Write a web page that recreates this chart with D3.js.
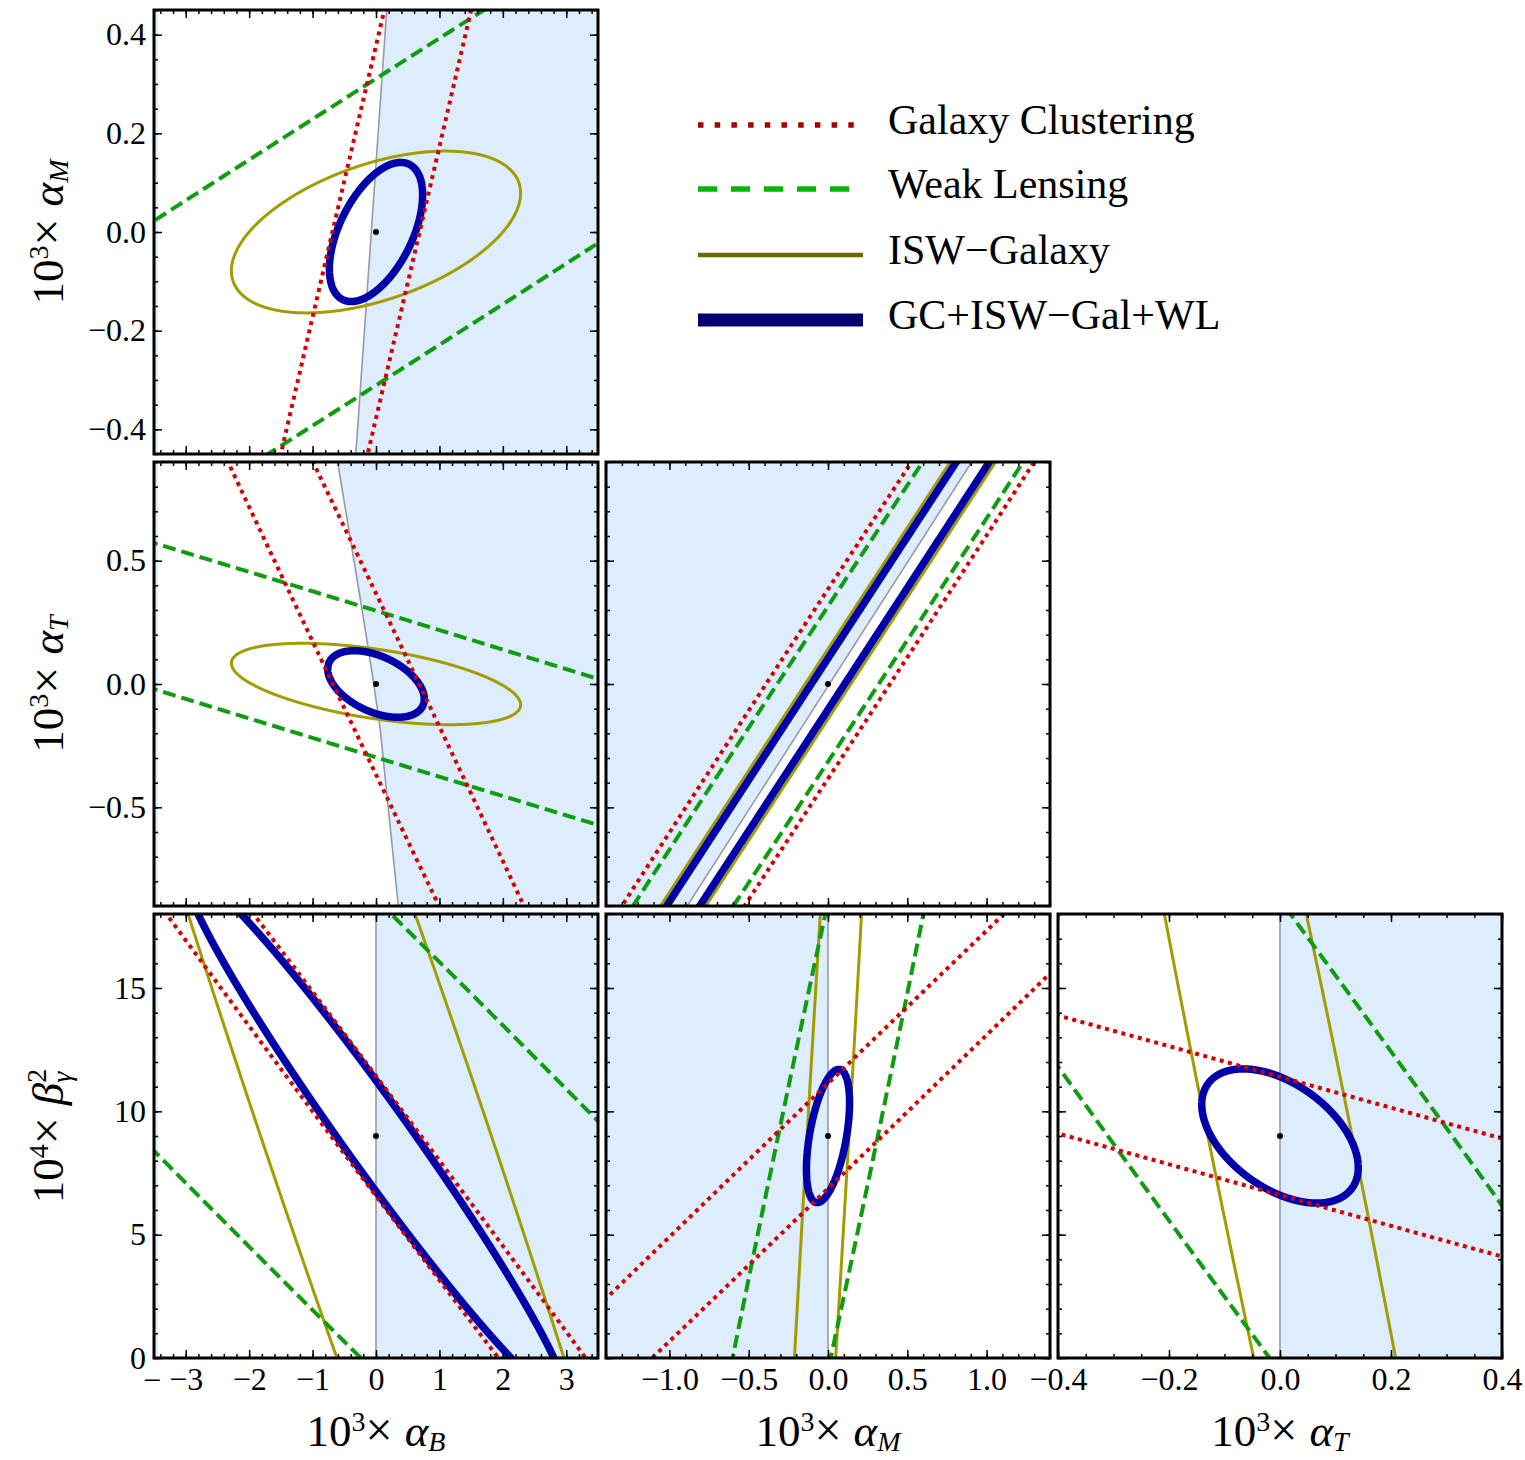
<!DOCTYPE html>
<html>
<head>
<meta charset="utf-8">
<script src="https://cdn.jsdelivr.net/npm/d3@7"></script>
<style>
  body { margin: 0; background: #fff; }
  svg text { font-family: "Liberation Serif", "Times New Roman", serif; fill: #000; }
</style>
</head>
<body>
<svg id="chart" width="1525" height="1460"></svg>
<script>
// ---------------- data ----------------
// column parameters (x axes) and row parameters (y axes)
const xDomains = [[-3.5, 3.5], [-1.4, 1.4], [-0.4, 0.4]];          // alpha_B, alpha_M, alpha_T
const yDomains = [[-0.45, 0.45], [-0.9, 0.9], [0, 18]];             // alpha_M, alpha_T, beta_gamma^2
const xMajorTicks = [[-3, -2, -1, 0, 1, 2, 3], [-1, -0.5, 0, 0.5, 1], [-0.4, -0.2, 0, 0.2, 0.4]];
const xMinorSteps = [0.2, 0.1, 0.05];
const yMajorTicks = [[-0.4, -0.2, 0, 0.2, 0.4], [-0.5, 0, 0.5], [0, 5, 10, 15]];
const yMinorSteps = [0.05, 0.1, 1];
const xTickFormats = ["d", ".1f", ".1f"];
const yTickFormats = [".1f", ".1f", "d"];
const xTitleSubs = ["B", "M", "T"];
const yTitleSubs = ["M", "T", null];

// triangle layout: panel -> (column, row)
const panelCols = [0, 0, 1, 0, 1, 2];
const panelRows = [0, 1, 1, 2, 2, 2];

// fiducial model in every panel
const fiducialX = [0, 0, 0, 0, 0, 0];
const fiducialY = [0, 0, 0, 9, 9, 9];

// forecast contours: [sigma_x, sigma_y, correlation] for each panel
const probeNames = ["Galaxy Clustering", "Weak Lensing", "ISW\u2212Galaxy", "GC+ISW\u2212Gal+WL"];
const gcContours = [
  [9.091, 5, 0.99714], [9.265, 5, -0.99730], [6.1025, 6, 0.99795],
  [10.494, 36, -0.99771], [8.047, 50, 0.99909], [8, 49.96, -0.99885]
];
const wlContours = [
  [40, 3.2947, 0.99554], [40, 3.162, -0.99557], [6.0985, 6, 0.99862],
  [23.30, 60, -0.9871], [1.655, 50, 0.9818], [1.945, 60, -0.9872]
];
const iswContours = [
  [2.28, 0.164, 0.48], [2.28, 0.165, -0.51], [6.0918, 6, 0.99972],
  [6.769, 50, -0.9632], [0.4719, 50, 0.960], [0.4659, 50, -0.9603]
];
const combinedContours = [
  [0.735, 0.141, 0.53], [0.761, 0.135, -0.45], [6.0911, 6, 0.99985],
  [2.991, 10.668, -0.9776], [0.136, 2.70, 0.50], [0.141, 2.72, -0.47]
];

// stability boundary in each panel
const boundaries = [
  [[0.169, 0.45], [-0.074, 0], [-0.318, -0.45]],
  [[-0.605, 0.9], [-0.226, 0.312], [-0.043, 0.014], [0.063, -0.176], [0.352, -0.9]],
  [[-0.888, -0.9], [0.906, 0.9]],
  [[0, 0], [0, 18]],
  [[0, 0], [0, 18]],
  [[0, 0], [0, 18]]
];
// shaded (stable) regions
const stableRegions = [
  [[[-3.5, -0.45], [-3.44, -0.45], [-3.44, 0.45], [-3.5, 0.45]],
   boundaries[0].concat([[3.5, -0.45], [3.5, 0.45]])],
  [[[-3.5, -0.9], [-3.44, -0.9], [-3.44, 0.9], [-3.5, 0.9]],
   boundaries[1].concat([[3.5, -0.9], [3.5, 0.9]])],
  [boundaries[2].concat([[-1.4, 0.9], [-1.4, -0.9]])],
  [[[-3.5, 0], [-3.44, 0], [-3.44, 18], [-3.5, 18]],
   [[0, 0], [3.5, 0], [3.5, 18], [0, 18]]],
  [[[-1.4, 0], [0, 0], [0, 18], [-1.4, 18]]],
  [[[0, 0], [0.4, 0], [0.4, 18], [0, 18]]]
];

// ---------------- layout & styles ----------------
const S = 444;
const colX = [154, 606, 1058];
const rowY = [10, 462, 914];

const probeStyles = [
  { stroke: "#d20000", width: 4, dash: "4,4.5", legendStroke: "#a50000", legendWidth: 5.5, legendDash: "5.5,11.2" },
  { stroke: "#109c10", width: 4, dash: "13,6", legendStroke: "#00b800", legendWidth: 5.5, legendDash: "19,14" },
  { stroke: "#a39c00", width: 3, dash: null, legendStroke: "#6a6a00", legendWidth: 4.5, legendDash: null },
  { stroke: "#0000aa", width: 7.5, dash: null, legendStroke: "#00006e", legendWidth: 13, legendDash: null }
];
const contourSets = [gcContours, wlContours, iswContours, combinedContours];
const drawOrder = [2, 3, 1, 0];

const svg = d3.select("#chart");
const defs = svg.append("defs");

function ellipsePoints(cx, cy, c, n) {
  const [sx, sy, rho] = c;
  const q = Math.sqrt(1 - rho * rho);
  return d3.range(n).map(i => {
    const t = 2 * Math.PI * i / n;
    return [cx + sx * Math.cos(t), cy + sy * (rho * Math.cos(t) + q * Math.sin(t))];
  });
}

function minorTicks(dom, step) {
  const out = [];
  const k0 = Math.ceil(dom[0] / step - 1e-9), k1 = Math.floor(dom[1] / step + 1e-9);
  for (let k = k0; k <= k1; k++) out.push(+(k * step).toFixed(6));
  return out;
}

panelCols.forEach((c, p) => {
  const r = panelRows[p];
  const x = d3.scaleLinear().domain(xDomains[c]).range([colX[c], colX[c] + S]);
  const y = d3.scaleLinear().domain(yDomains[r]).range([rowY[r] + S, rowY[r]]);
  const line = d3.line().x(d => x(d[0])).y(d => y(d[1]));

  defs.append("clipPath").attr("id", "clip" + p)
    .append("rect").attr("x", colX[c]).attr("y", rowY[r]).attr("width", S).attr("height", S);

  const g = svg.append("g").attr("clip-path", `url(#clip${p})`);

  // stable region
  stableRegions[p].forEach(poly => {
    g.append("path").attr("d", line(poly) + "Z").attr("fill", "#ddedfd").attr("stroke", "none");
  });
  // boundary
  g.append("path").attr("d", line(boundaries[p])).attr("fill", "none")
    .attr("stroke", "#959ba5").attr("stroke-width", 1.6);

  // contours
  const closed = d3.line().x(d => x(d[0])).y(d => y(d[1])).curve(d3.curveLinearClosed);
  drawOrder.forEach(k => {
    const st = probeStyles[k];
    g.append("path")
      .attr("d", closed(ellipsePoints(fiducialX[p], fiducialY[p], contourSets[k][p], 8000)))
      .attr("fill", "none")
      .attr("stroke", st.stroke)
      .attr("stroke-width", st.width)
      .attr("stroke-dasharray", st.dash)
      .attr("stroke-linejoin", "round");
  });

  // fiducial point
  g.append("circle").attr("cx", x(fiducialX[p])).attr("cy", y(fiducialY[p])).attr("r", 3).attr("fill", "#000");

  // frame ticks (inward on all sides)
  const isBottom = r === 2, isLeft = c === 0;
  const axes = svg.append("g").attr("class", "axes");
  const styleAxis = sel => {
    sel.select(".domain").remove();
    sel.attr("font-size", null).attr("font-family", null);
    sel.selectAll("line").attr("stroke", "#000").attr("stroke-width", 1.5);
    sel.selectAll("text").attr("font-size", 32);
  };
  const xMinor = minorTicks(xDomains[c], xMinorSteps[c]);
  const yMinor = minorTicks(yDomains[r], yMinorSteps[r]);

  axes.append("g").attr("transform", `translate(0,${rowY[r] + S})`)
    .call(d3.axisBottom(x).tickValues(xMinor).tickSizeInner(-4).tickSizeOuter(0).tickFormat("")).call(styleAxis);
  axes.append("g").attr("transform", `translate(0,${rowY[r] + S})`)
    .call(d3.axisBottom(x).tickValues(xMajorTicks[c]).tickSizeInner(-8).tickSizeOuter(0).tickPadding(9)
      .tickFormat(isBottom ? d3.format(xTickFormats[c]) : "")).call(styleAxis);
  axes.append("g").attr("transform", `translate(0,${rowY[r]})`)
    .call(d3.axisTop(x).tickValues(xMinor).tickSizeInner(-4).tickSizeOuter(0).tickFormat("")).call(styleAxis);
  axes.append("g").attr("transform", `translate(0,${rowY[r]})`)
    .call(d3.axisTop(x).tickValues(xMajorTicks[c]).tickSizeInner(-8).tickSizeOuter(0).tickFormat("")).call(styleAxis);

  axes.append("g").attr("transform", `translate(${colX[c]},0)`)
    .call(d3.axisLeft(y).tickValues(yMinor).tickSizeInner(-4).tickSizeOuter(0).tickFormat("")).call(styleAxis);
  axes.append("g").attr("transform", `translate(${colX[c]},0)`)
    .call(d3.axisLeft(y).tickValues(yMajorTicks[r]).tickSizeInner(-8).tickSizeOuter(0).tickPadding(8)
      .tickFormat(isLeft ? d3.format(yTickFormats[r]) : "")).call(styleAxis);
  axes.append("g").attr("transform", `translate(${colX[c] + S},0)`)
    .call(d3.axisRight(y).tickValues(yMinor).tickSizeInner(-4).tickSizeOuter(0).tickFormat("")).call(styleAxis);
  axes.append("g").attr("transform", `translate(${colX[c] + S},0)`)
    .call(d3.axisRight(y).tickValues(yMajorTicks[r]).tickSizeInner(-8).tickSizeOuter(0).tickFormat("")).call(styleAxis);

  // frame
  svg.append("rect").attr("x", colX[c]).attr("y", rowY[r]).attr("width", S).attr("height", S)
    .attr("fill", "none").attr("stroke", "#000").attr("stroke-width", 3);

  if (p === 3) {
    // clipped minus sign at the left end of the alpha_B tick labels
    svg.append("text").attr("x", x(-3.53)).attr("y", rowY[r] + S + 33).attr("text-anchor", "middle")
      .attr("font-size", 32).text("\u2212");
  }
});

// ---------------- axis titles ----------------
function addTitle(sel, sub, isBeta) {
  sel.attr("font-size", 45).attr("text-anchor", "middle");
  sel.append("tspan").text("10");
  sel.append("tspan").attr("font-size", 28).attr("dy", -15).text(isBeta ? "4" : "3");
  sel.append("tspan").attr("dy", 15).attr("font-size", 48).text("\u00d7");
  if (isBeta) {
    sel.append("tspan").attr("dx", 12).attr("font-style", "italic").text("\u03b2");
    sel.append("tspan").attr("font-size", 28).attr("dy", -17).text("2");
    sel.append("tspan").attr("font-size", 28).attr("font-style", "italic").attr("dx", -14).attr("dy", 25).text("\u03b3");
  } else {
    sel.append("tspan").attr("dx", 12).attr("font-style", "italic").text("\u03b1");
    sel.append("tspan").attr("font-size", 28).attr("font-style", "italic").attr("dy", 5).text(sub);
  }
}
xTitleSubs.forEach((s, c) => {
  svg.append("text").attr("transform", `translate(${colX[c] + S / 2},1446)`).call(t => addTitle(t, s, false));
});
yTitleSubs.forEach((s, r) => {
  svg.append("text").attr("transform", `translate(63,${rowY[r] + S / 2}) rotate(-90)`)
    .call(t => addTitle(t, s, s === null));
});

// ---------------- legend ----------------
const legendY = [125, 189, 255, 320];
const legend = svg.append("g");
probeNames.forEach((name, k) => {
  const st = probeStyles[k];
  legend.append("line").attr("x1", 698).attr("x2", 863).attr("y1", legendY[k]).attr("y2", legendY[k])
    .attr("stroke", st.legendStroke).attr("stroke-width", st.legendWidth)
    .attr("stroke-dasharray", st.legendDash);
  legend.append("text").attr("x", 888).attr("y", legendY[k] + 9).attr("font-size", 42).text(name);
});
</script>
</body>
</html>
